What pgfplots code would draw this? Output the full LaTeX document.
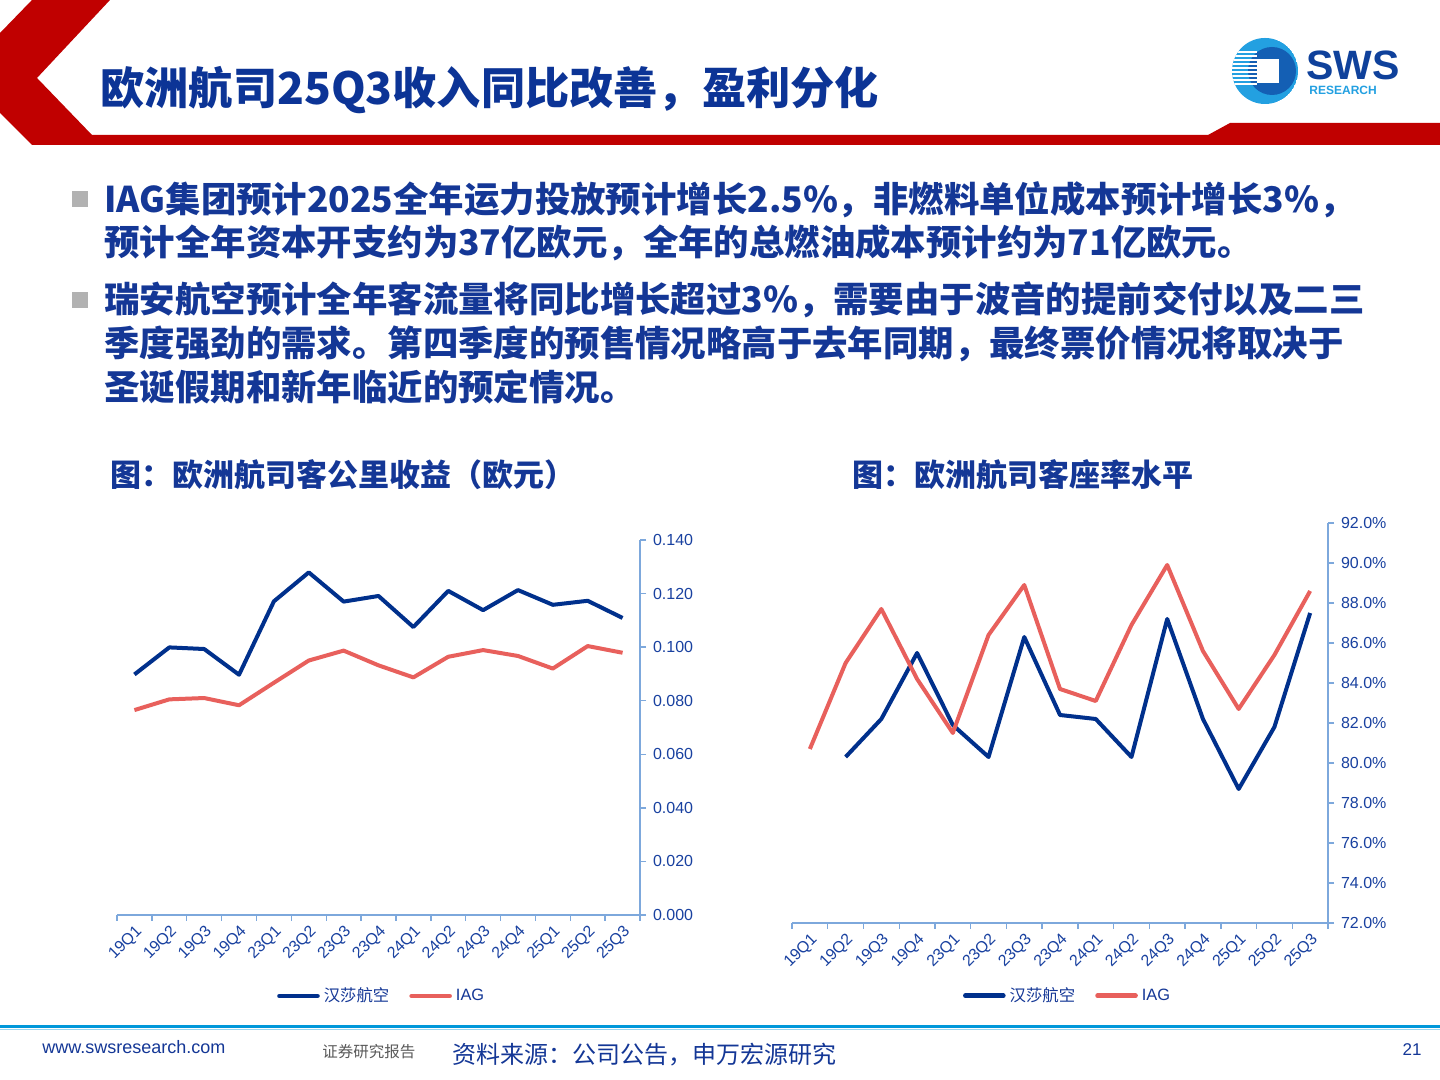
\documentclass[border=0pt]{standalone}
\usepackage{pgfplots}
\pgfplotsset{compat=1.18}
\usepackage{fontspec}
\setmainfont{Liberation Sans}
\newfontfamily\cjk{Noto Sans CJK SC}
\definecolor{titleblue}{RGB}{12,52,150}
\definecolor{textblue}{RGB}{20,55,150}
\definecolor{navyline}{RGB}{0,48,140}
\definecolor{redline}{RGB}{232,96,92}
\definecolor{axcol}{RGB}{125,168,220}
\definecolor{ticklab}{RGB}{25,65,160}
\definecolor{swsred}{RGB}{192,0,0}
\definecolor{footline}{RGB}{0,152,218}
\definecolor{logocyan}{RGB}{35,160,225}
\definecolor{logodark}{RGB}{20,95,180}
\definecolor{swsblue}{RGB}{15,65,155}

\pgfplotsset{
  slidechart/.style={
    scale only axis,
    anchor=south west,
    axis x line*=bottom,
    axis y line*=right,
    axis line style={draw=axcol, line width=0.7pt, -},
    xmin=-0.5, xmax=14.5,
    xtick={0,...,14},
    xticklabels={19Q1,19Q2,19Q3,19Q4,23Q1,23Q2,23Q3,23Q4,24Q1,24Q2,24Q3,24Q4,25Q1,25Q2,25Q3},
    minor xtick={-0.5,0.5,...,14.5},
    every major x tick/.append style={draw=none},
    every minor x tick/.append style={draw=axcol, line width=0.7pt},
    every major y tick/.append style={draw=axcol, line width=0.7pt},
    tick align=outside,
    major tick length=3pt,
    minor tick length=3pt,
    xticklabel style={rotate=45, anchor=north east, font=\fontsize{8}{9}\selectfont, text=ticklab, inner sep=1pt},
    yticklabel style={font=\fontsize{8}{9}\selectfont, text=ticklab},
    /pgf/number format/assume math mode=true,
    scaled y ticks=false,
    legend columns=2,
    legend style={draw=none, fill=none, inner sep=0pt, font=\fontsize{8.2}{9}\selectfont, text=textblue,
      /tikz/every even column/.append style={column sep=8pt}},
    legend cell align=left,
    legend image code/.code={\draw[#1, line width=2.3pt, line cap=round] (0pt,0pt) -- (19pt,0pt);},
    every axis plot/.append style={line width=2pt, line join=round, mark=none},
  }
}

\begin{document}
\begin{tikzpicture}[x=0.5pt,y=0.5pt]
\path[use as bounding box, fill=white] (0,0) rectangle (1440,1080);
\coordinate (c1) at (117,165);
\coordinate (c2) at (792,157);

% header red shape
\fill[swsred] (32,1080) -- (110,1080) -- (37,1002) -- (92,945) -- (1208,945) -- (1230,957) -- (1440,957) -- (1440,935) -- (32,935) -- (0,967) -- (0,1047) -- cycle;

% title
\node[anchor=west, inner sep=0pt, text=titleblue] at (100,990)
  {\cjk\bfseries\fontsize{22.1}{26}\selectfont 欧洲航司25Q3收入同比改善，盈利分化};

% logo
\begin{scope}
\clip (1265,1009) circle (33);
\fill[logocyan] (1265,1009) circle (33);
\fill[logodark] (1272,1009) circle (24);
\foreach \yy in {995,999,1003,1007,1011,1015,1019,1023,1027}
  \fill[white] (1230,\yy) rectangle (1257,\yy+2.2);
\fill[white] (1257,997) rectangle (1279,1021);
\end{scope}
\node[anchor=west, inner sep=0pt, text=swsblue] at (1306,1015)
  {\bfseries\fontsize{20.5}{22}\selectfont SWS};
\node[anchor=west, inner sep=0pt, text=logocyan] at (1309,990)
  {\bfseries\fontsize{6}{7}\selectfont RESEARCH};

% bullets
\fill[black!30] (72,873) rectangle (88,889);
\fill[black!30] (72,772) rectangle (88,788);
\begin{scope}[every node/.style={anchor=west, inner sep=0pt, text=textblue, font=\cjk\bfseries\fontsize{17.7}{22}\selectfont}]
\node at (104,880) {IAG集团预计2025全年运力投放预计增长2.5\%，非燃料单位成本预计增长3\%，};
\node at (104,837) {预计全年资本开支约为37亿欧元，全年的总燃油成本预计约为71亿欧元。};
\node at (104,780) {瑞安航空预计全年客流量将同比增长超过3\%，需要由于波音的提前交付以及二三};
\node at (104,736) {季度强劲的需求。第四季度的预售情况略高于去年同期，最终票价情况将取决于};
\node at (104,693) {圣诞假期和新年临近的预定情况。};
\end{scope}

% chart titles
\node[anchor=west, inner sep=0pt, text=textblue] at (110,605)
  {\cjk\bfseries\fontsize{15.5}{18}\selectfont 图：欧洲航司客公里收益（欧元）};
\node[anchor=west, inner sep=0pt, text=textblue] at (852,605)
  {\cjk\bfseries\fontsize{15.5}{18}\selectfont 图：欧洲航司客座率水平};

% chart 1
\begin{axis}[slidechart,
  at={(c1)}, width=261.5pt, height=187.5pt,
  ymin=0, ymax=0.14,
  ytick={0,0.02,0.04,0.06,0.08,0.1,0.12,0.14},
  yticklabel={\pgfmathprintnumber[fixed,fixed zerofill,precision=3]{\tick}},
  legend style={at={(axis description cs:0.508,-0.216)}, anchor=center},
]
\addplot[navyline] coordinates {
(0,0.0898) (1,0.0999) (2,0.0993) (3,0.0897) (4,0.1171) (5,0.1279) (6,0.1170) (7,0.1191)
(8,0.1075) (9,0.1210) (10,0.1138) (11,0.1213) (12,0.1158) (13,0.1173) (14,0.1109)};
\addlegendentry{{\cjk 汉莎航空}}
\addplot[redline] coordinates {
(0,0.0765) (1,0.0805) (2,0.0810) (3,0.0783) (4,0.0867) (5,0.0950) (6,0.0987) (7,0.0932)
(8,0.0887) (9,0.0964) (10,0.0989) (11,0.0967) (12,0.0920) (13,0.1004) (14,0.0979)};
\addlegendentry{IAG}
\end{axis}

% chart 2
\begin{axis}[slidechart,
  at={(c2)}, width=268pt, height=200pt,
  ymin=72, ymax=92,
  ytick={72,74,76,78,80,82,84,86,88,90,92},
  yticklabel={\pgfmathprintnumber[fixed,fixed zerofill,precision=1]{\tick}\%},
  legend style={at={(axis description cs:0.516,-0.182)}, anchor=center},
]
\addplot[navyline] coordinates {
(1,80.3) (2,82.2) (3,85.5) (4,81.9) (5,80.3) (6,86.3) (7,82.4)
(8,82.2) (9,80.3) (10,87.2) (11,82.2) (12,78.7) (13,81.8) (14,87.5)};
\addlegendentry{{\cjk 汉莎航空}}
\addplot[redline] coordinates {
(0,80.7) (1,85.0) (2,87.7) (3,84.2) (4,81.5) (5,86.4) (6,88.9) (7,83.7)
(8,83.1) (9,86.9) (10,89.9) (11,85.6) (12,82.7) (13,85.4) (14,88.6)};
\addlegendentry{IAG}
\end{axis}

% footer
\draw[footline, line width=1.5pt] (0,53) -- (1440,53);
\draw[footline!40, line width=0.6pt] (0,50.5) -- (1440,50.5);
\node[anchor=west, inner sep=0pt, text=textblue] at (42,33)
  {\fontsize{9}{10}\selectfont www.swsresearch.com};
\node[anchor=west, inner sep=0pt, text=black!65] at (322,28)
  {\cjk\fontsize{7.75}{9}\selectfont 证券研究报告};
\node[anchor=west, inner sep=0pt, text=textblue] at (452,25)
  {\cjk\fontsize{12}{14}\selectfont 资料来源：公司公告，申万宏源研究};
\node[anchor=east, inner sep=0pt, text=textblue] at (1422,30)
  {\fontsize{8.5}{10}\selectfont 21};
\end{tikzpicture}
\end{document}
